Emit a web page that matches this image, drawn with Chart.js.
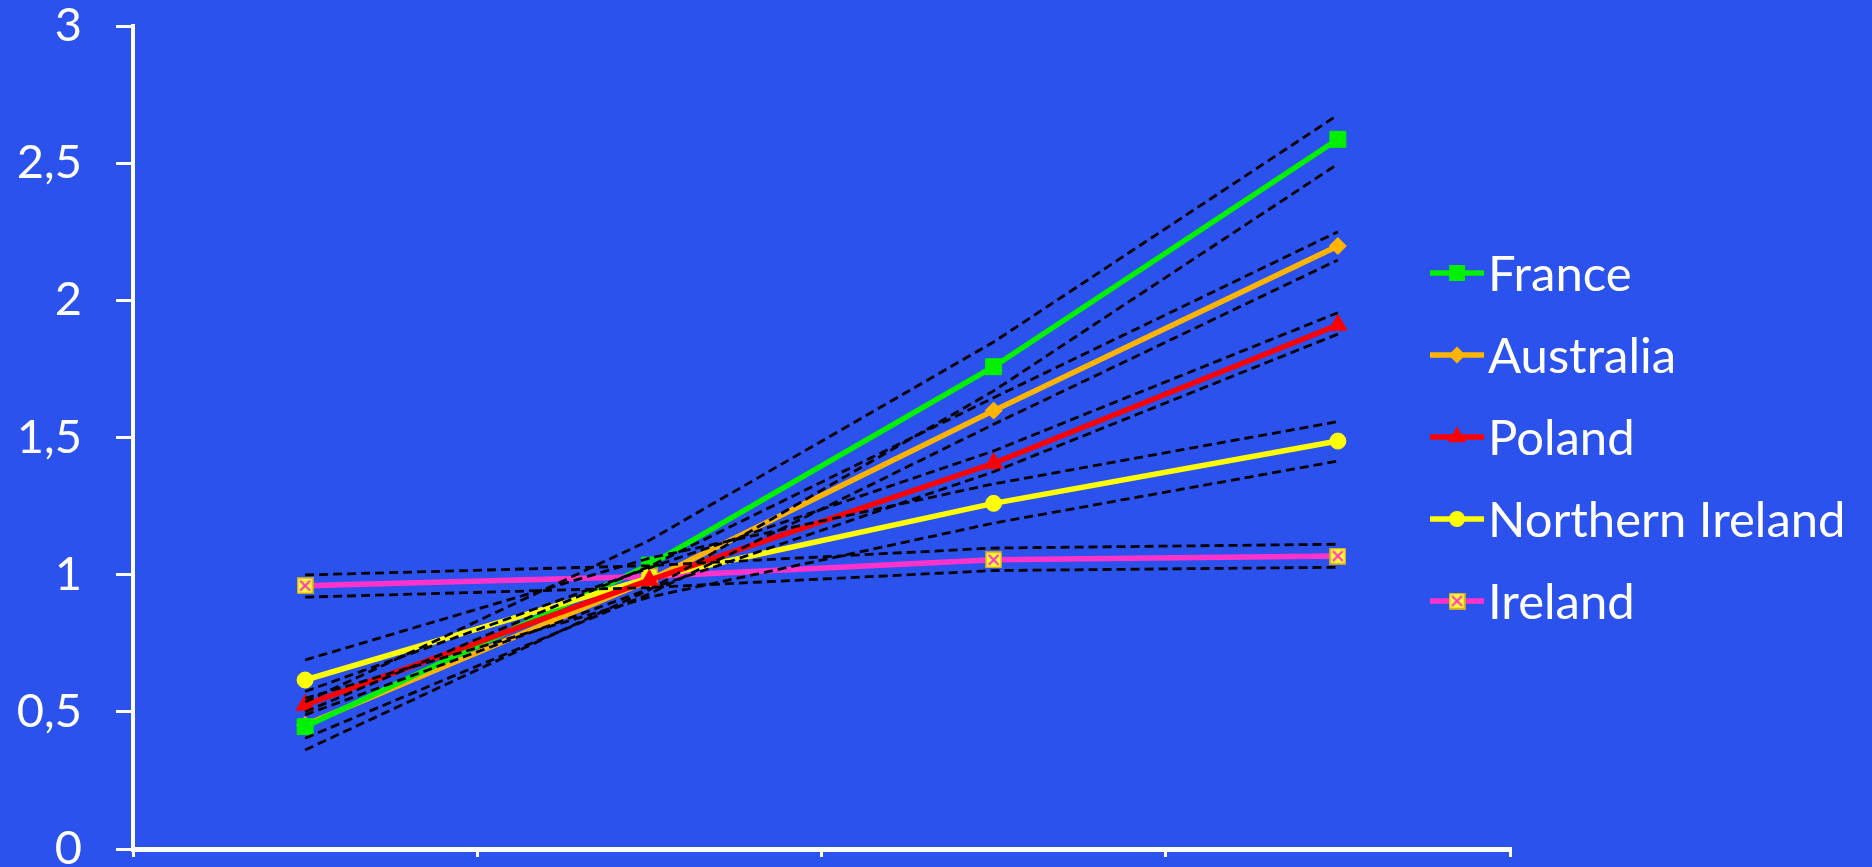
<!DOCTYPE html>
<html><head><meta charset="utf-8">
<script src="https://cdn.jsdelivr.net/npm/chart.js@4/dist/chart.umd.min.js"></script>
<style>html,body{margin:0;padding:0;background:#2c52ed;overflow:hidden}#wrap{width:1872px;height:867px;position:relative}canvas{display:block}</style>
</head><body><div id="wrap"><canvas id="c" width="1872" height="867"></canvas></div>
<script>
// ---- data ----
const categories = ['', '', '', ''];
const seriesNames = ['France', 'Australia', 'Poland', 'Northern Ireland', 'Ireland'];
const france       = [0.446, 1.035, 1.758, 2.587];
const franceUpper  = [0.536, 1.125, 1.848, 2.676];
const franceLower  = [0.361, 0.945, 1.670, 2.497];
const australia      = [0.452, 0.980, 1.598, 2.198];
const australiaUpper = [0.500, 1.030, 1.645, 2.250];
const australiaLower = [0.404, 0.930, 1.548, 2.147];
const poland      = [0.525, 0.980, 1.406, 1.910];
const polandUpper = [0.574, 1.025, 1.451, 1.955];
const polandLower = [0.489, 0.948, 1.375, 1.877];
const nIreland      = [0.616, 0.988, 1.260, 1.487];
const nIrelandUpper = [0.689, 1.060, 1.331, 1.558];
const nIrelandLower = [0.549, 0.918, 1.188, 1.414];
const ireland      = [0.960, 0.993, 1.054, 1.068];
const irelandUpper = [0.999, 1.033, 1.097, 1.111];
const irelandLower = [0.918, 0.953, 1.015, 1.027];
const yTickLabels = ['0', '0,5', '1', '1,5', '2', '2,5', '3'];

// ---- styles ----
const BG = '#2c52ed';
const FONT = 'Lato, "Open Sans", sans-serif';
const TARGET = { left: 132, top: 26, right: 1510, bottom: 849 };

function makeIrelandMarker() {
  const c = document.createElement('canvas');
  c.width = 17; c.height = 17;
  const g = c.getContext('2d');
  g.fillStyle = '#ffff33'; g.fillRect(0, 0, 17, 17);
  g.strokeStyle = '#c8a030'; g.lineWidth = 1.5; g.strokeRect(0.75, 0.75, 15.5, 15.5);
  g.strokeStyle = '#ff33cc'; g.lineWidth = 2;
  g.beginPath(); g.moveTo(3.5, 3.5); g.lineTo(13.5, 13.5); g.moveTo(13.5, 3.5); g.lineTo(3.5, 13.5); g.stroke();
  return c;
}
const irelandMarker = makeIrelandMarker();

const seriesStyles = [
  { color: '#00f000', pointStyle: 'rect', radius: 11.3 },
  { color: '#ffb400', pointStyle: 'rectRot', radius: 8.5 },
  { color: '#ff0000', pointStyle: 'triangle', radius: 10.5 },
  { color: '#ffff00', pointStyle: 'circle', radius: 8 },
  { color: '#ff33cc', pointStyle: irelandMarker, radius: 8.5 }
];
const seriesData = [france, australia, poland, nIreland, ireland];
const bandData = [franceUpper, franceLower, australiaUpper, australiaLower, polandUpper, polandLower,
                  nIrelandUpper, nIrelandLower, irelandUpper, irelandLower];
const drawOrder = [3, 4, 1, 2, 2];

const datasets = [];
bandData.forEach((d) => datasets.push({
  data: d, borderColor: '#000', borderWidth: 2.8, borderDash: [9, 5], pointRadius: 0,
  fill: false, tension: 0, order: 0
}));
seriesData.forEach((d, i) => datasets.push({
  label: seriesNames[i], data: d, borderColor: seriesStyles[i].color, backgroundColor: seriesStyles[i].color,
  borderWidth: 5.5, pointStyle: seriesStyles[i].pointStyle, pointRadius: seriesStyles[i].radius,
  pointBorderWidth: 1, pointBorderColor: seriesStyles[i].color, pointBackgroundColor: seriesStyles[i].color,
  fill: false, tension: 0, order: drawOrder[i]
}));

const bgPlugin = {
  id: 'bg',
  beforeDraw(chart) {
    const ctx = chart.ctx;
    ctx.save(); ctx.fillStyle = BG; ctx.fillRect(0, 0, chart.width, chart.height); ctx.restore();
  }
};

function drawMarker(ctx, style, x, y, color) {
  const r = style.radius;
  ctx.save();
  ctx.fillStyle = color;
  if (style.pointStyle instanceof HTMLCanvasElement) {
    ctx.drawImage(style.pointStyle, x - 8.5, y - 8.5);
  } else if (style.pointStyle === 'rect') {
    const s = Math.SQRT1_2 * r;
    ctx.fillRect(x - s, y - s, 2 * s, 2 * s);
  } else if (style.pointStyle === 'rectRot') {
    ctx.beginPath(); ctx.moveTo(x, y - r); ctx.lineTo(x + r, y); ctx.lineTo(x, y + r); ctx.lineTo(x - r, y); ctx.closePath(); ctx.fill();
  } else if (style.pointStyle === 'triangle') {
    ctx.beginPath();
    ctx.moveTo(x, y - r);
    ctx.lineTo(x + r * Math.cos(Math.PI / 6), y + r / 2);
    ctx.lineTo(x - r * Math.cos(Math.PI / 6), y + r / 2);
    ctx.closePath(); ctx.fill();
  } else {
    ctx.beginPath(); ctx.arc(x, y, r, 0, Math.PI * 2); ctx.fill();
  }
  ctx.restore();
}

const legendPlugin = {
  id: 'customLegend',
  afterDraw(chart) {
    const ctx = chart.ctx;
    const x0 = 1430, lineLen = 54, yStart = 273, yStep = 82;
    ctx.save();
    ctx.font = '49px ' + FONT;
    ctx.textBaseline = 'middle';
    seriesNames.forEach((name, i) => {
      const y = yStart + i * yStep;
      const st = seriesStyles[i];
      ctx.strokeStyle = st.color; ctx.lineWidth = 5.5;
      ctx.beginPath(); ctx.moveTo(x0, y); ctx.lineTo(x0 + lineLen, y); ctx.stroke();
      drawMarker(ctx, st, x0 + lineLen / 2, y, st.color);
      ctx.fillStyle = '#ffffff';
      ctx.fillText(name, x0 + lineLen + 4, y + 2);
    });
    ctx.restore();
  }
};

const chart = new Chart(document.getElementById('c'), {
  type: 'line',
  data: { labels: categories, datasets },
  options: {
    responsive: false, animation: false, devicePixelRatio: 1,
    layout: { padding: { top: 26, right: 362, bottom: 6, left: 0 } },
    plugins: { legend: { display: false }, tooltip: { enabled: false } },
    scales: {
      x: {
        offset: true,
        grid: { offset: true, drawOnChartArea: false, color: '#ffffff', lineWidth: 3, tickLength: 8 },
        border: { color: '#ffffff', width: 5 },
        ticks: { display: false },
        afterFit(scale) { scale.paddingLeft = 0; scale.paddingRight = 0; }
      },
      y: {
        min: 0, max: 3,
        grid: { drawOnChartArea: false, color: '#ffffff', lineWidth: 3, tickLength: 17 },
        border: { color: '#ffffff', width: 4 },
        ticks: {
          stepSize: 0.5, color: '#ffffff', padding: 34,
          font: { family: FONT, size: 47, lineHeight: 1 },
          callback: (v, i) => yTickLabels[i]
        },
        afterFit(scale) { scale.width = 133; scale.paddingTop = 0; scale.paddingBottom = 0; }
      }
    }
  },
  plugins: [bgPlugin, legendPlugin]
});

// adjust layout padding so that the plot area lands where the reference has it
for (let pass = 0; pass < 3; pass++) {
  const a = chart.chartArea;
  const p = chart.options.layout.padding;
  p.top = Math.max(0, p.top + (TARGET.top - a.top));
  p.bottom = Math.max(0, p.bottom + (a.bottom - TARGET.bottom));
  p.left = Math.max(0, p.left + (TARGET.left - a.left));
  p.right = Math.max(0, p.right + (a.right - TARGET.right));
  chart.update('none');
}
</script>
</body></html>
